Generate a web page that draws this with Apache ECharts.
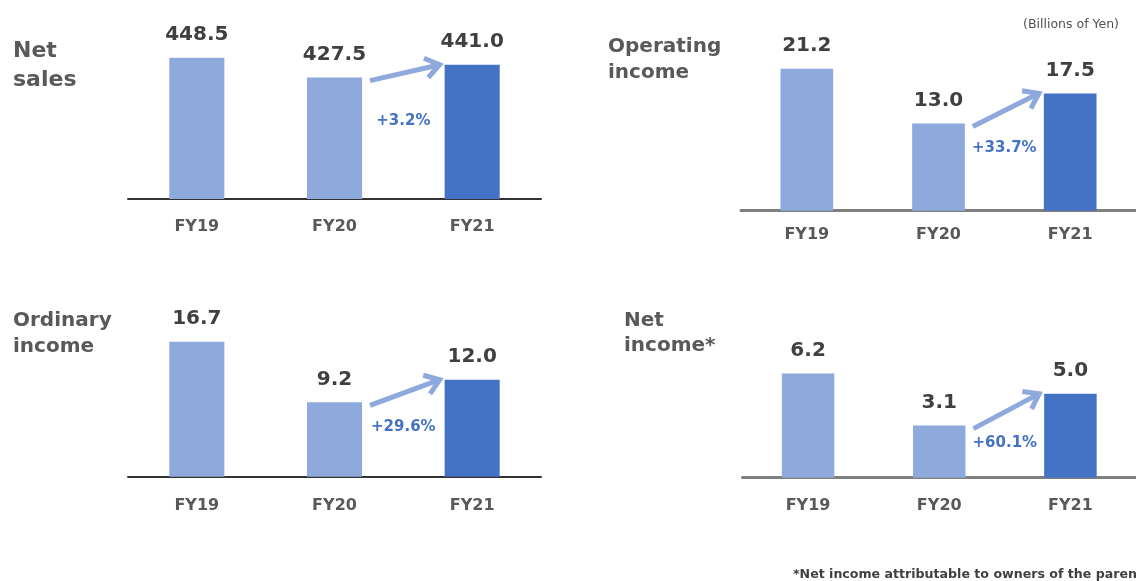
<!DOCTYPE html>
<html>
<head>
<meta charset="utf-8">
<script src="https://cdn.jsdelivr.net/npm/echarts@6/dist/echarts.min.js"></script>
<style>
html,body{margin:0;padding:0;background:#fff;}
#main{width:1136px;height:581px;}
</style>
</head>
<body>
<div id="main"></div>
<script>
// ---- data ----
const categories = ['FY19', 'FY20', 'FY21'];
const netSales = [448.5, 427.5, 441.0];
const operatingIncome = [21.2, 13.0, 17.5];
const ordinaryIncome = [16.7, 9.2, 12.0];
const netIncome = [6.2, 3.1, 5.0];
const growthLabels = ['+3.2%', '+33.7%', '+29.6%', '+60.1%'];
const panelTitles = ['Net\nsales', 'Operating\nincome', 'Ordinary\nincome', 'Net\nincome*'];
const unitNote = '(Billions of Yen)';
const footNote = '*Net income attributable to owners of the parent';

// ---- layout / style ----
const FONT = 'DejaVu Sans';
const LIGHT = '#8EA9DB';
const DARK = '#4472C4';
const panels = [
  { values: netSales, grid: { left: 128, width: 413, top: 8.6, height: 190.4 }, min: 300, max: 500,
    axisColor: '#333333', axisWidth: 2, labelMargin: 20,
    title: { left: 13, top: 37, size: 22, lh: 29 }, pctDy: 43 },
  { values: operatingIncome, grid: { left: 741, width: 406.5, top: 9.7, height: 201 }, min: 0, max: 30,
    axisColor: '#7f7f7f', axisWidth: 3, labelMargin: 16,
    title: { left: 608, top: 34, size: 20, lh: 26 }, pctDy: 25 },
  { values: ordinaryIncome, grid: { left: 128, width: 413, top: 315.1, height: 161.6 }, min: 0, max: 20,
    axisColor: '#333333', axisWidth: 2, labelMargin: 21,
    title: { left: 13, top: 308, size: 20, lh: 26 }, pctDy: 25 },
  { values: netIncome, grid: { left: 742.5, width: 406.5, top: 309.7, height: 168 }, min: 0, max: 10,
    axisColor: '#7f7f7f', axisWidth: 3, labelMargin: 20,
    title: { left: 624, top: 308, size: 20, lh: 25 }, pctDy: 17 }
];

const chart = echarts.init(document.getElementById('main'), null, { renderer: 'canvas' });

const option = {
  animation: false,
  backgroundColor: '#ffffff',
  title: panels.map((p, i) => ({
    text: panelTitles[i], left: p.title.left, top: p.title.top, padding: 0,
    textStyle: { fontFamily: FONT, fontSize: p.title.size, fontWeight: 'bold', color: '#595959', lineHeight: p.title.lh }
  })),
  grid: panels.map(p => Object.assign({ containLabel: false }, p.grid)),
  xAxis: panels.map((p, i) => ({
    type: 'category', gridIndex: i, data: categories, boundaryGap: true,
    axisLine: { show: true, lineStyle: { color: p.axisColor, width: p.axisWidth } },
    axisTick: { show: false },
    axisLabel: { margin: p.labelMargin, fontFamily: FONT, fontSize: 16, fontWeight: 'bold', color: '#595959' },
    splitLine: { show: false }
  })),
  yAxis: panels.map((p, i) => ({
    type: 'value', gridIndex: i, min: p.min, max: p.max, show: false, splitLine: { show: false }
  })),
  series: panels.map((p, i) => ({
    type: 'bar', xAxisIndex: i, yAxisIndex: i, barWidth: '40%',
    data: p.values.map((v, j) => ({ value: v, itemStyle: { color: j === 2 ? DARK : LIGHT } })),
    label: {
      show: true, position: 'top', distance: 13,
      formatter: d => d.value.toFixed(1),
      fontFamily: FONT, fontSize: 20, fontWeight: 'bold', color: '#404040'
    }
  }))
};
chart.setOption(option);

// ---- annotations derived from the library's scales ----
const graphics = [];
panels.forEach((p, i) => {
  const a = chart.convertToPixel({ gridIndex: i }, [categories[1], p.values[1]]);
  const b = chart.convertToPixel({ gridIndex: i }, [categories[2], p.values[2]]);
  const band = b[0] - a[0];
  const bw = band * 0.4;
  const x1 = a[0] + bw / 2 + 8, y1 = a[1] + 3;
  const x2 = b[0] - bw / 2 - 5, y2 = b[1];
  const ang = Math.atan2(y2 - y1, x2 - x1);
  const L = 17, spread = 0.62;
  const h1 = [x2 - L * Math.cos(ang - spread), y2 - L * Math.sin(ang - spread)];
  const h2 = [x2 - L * Math.cos(ang + spread), y2 - L * Math.sin(ang + spread)];
  graphics.push({
    type: 'line', silent: true,
    shape: { x1: x1, y1: y1, x2: x2 - 2 * Math.cos(ang), y2: y2 - 2 * Math.sin(ang) },
    style: { stroke: LIGHT, lineWidth: 5 }
  });
  graphics.push({
    type: 'polyline', silent: true,
    shape: { points: [h1, [x2, y2], h2] },
    style: { stroke: LIGHT, lineWidth: 5, fill: null, lineJoin: 'miter', lineCap: 'butt' }
  });
  const cx = (a[0] + bw / 2 + b[0] - bw / 2) / 2;
  graphics.push({
    type: 'text', silent: true, x: cx, y: a[1] + p.pctDy,
    style: { text: growthLabels[i], fill: DARK, font: 'bold 15px "' + FONT + '"', align: 'center', verticalAlign: 'middle' }
  });
});
graphics.push({
  type: 'text', silent: true, x: 1119, y: 25,
  style: { text: unitNote, fill: '#505050', font: '12.5px "' + FONT + '"', align: 'right', verticalAlign: 'middle' }
});
graphics.push({
  type: 'text', silent: true, x: 793, y: 575,
  style: { text: footNote, fill: '#404040', font: 'bold 12.6px "' + FONT + '"', align: 'left', verticalAlign: 'middle' }
});
chart.setOption({ graphic: graphics });
</script>
</body>
</html>
